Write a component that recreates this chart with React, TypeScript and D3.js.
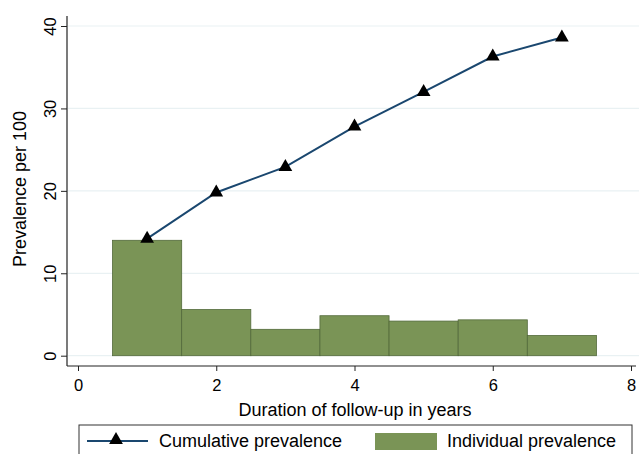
import { useEffect, useRef } from 'react';
import * as d3 from 'd3';

const years = [1, 2, 3, 4, 5, 6, 7];
const cumulative = [14.2, 19.8, 22.9, 27.8, 32.0, 36.3, 38.6];
const individual = [14.0, 5.6, 3.2, 4.85, 4.2, 4.35, 2.45];
const xTicks = [0, 2, 4, 6, 8];
const yTicks = [0, 10, 20, 30, 40];

const LINE_COLOR = '#1a476f';
const BAR_COLOR = '#7a9456';
const BAR_EDGE = '#52693a';
const GRID_COLOR = '#e9f1f3';
const FONT = '"Liberation Sans", Arial, sans-serif';

export default function App() {
  const svgRef = useRef<SVGSVGElement>(null);

  useEffect(() => {
    if (!svgRef.current) return;
    const svg = d3.select(svgRef.current);
    svg.selectAll('*').remove();

    const width = 639;
    const axisX = 67;
    const axisY = 366;

    const x = d3.scaleLinear().domain([0, 8]).range([78, 631]);
    const y = d3.scaleLinear().domain([0, 40]).range([355.7, 26]);

    svg.append('rect').attr('width', width).attr('height', 454).attr('fill', '#ffffff');

    // gridlines
    svg.append('g')
      .selectAll('line')
      .data(yTicks)
      .join('line')
      .attr('x1', axisX + 1)
      .attr('x2', width)
      .attr('y1', d => y(d))
      .attr('y2', d => y(d))
      .attr('stroke', GRID_COLOR)
      .attr('stroke-width', 1.2);

    // bars (one year wide, centred on the year)
    svg.append('g')
      .selectAll('rect')
      .data(years)
      .join('rect')
      .attr('x', d => x(d - 0.5))
      .attr('width', d => x(d + 0.5) - x(d - 0.5))
      .attr('y', (_, i) => y(individual[i]))
      .attr('height', (_, i) => y(0) - y(individual[i]))
      .attr('fill', BAR_COLOR)
      .attr('stroke', BAR_EDGE)
      .attr('stroke-width', 0.8);

    // cumulative line
    const line = d3.line<number>()
      .x((_, i) => x(years[i]))
      .y(d => y(d));
    svg.append('path')
      .datum(cumulative)
      .attr('d', line)
      .attr('fill', 'none')
      .attr('stroke', LINE_COLOR)
      .attr('stroke-width', 2);

    const tri = d3.symbol().type(d3.symbolTriangle).size(82);
    svg.append('g')
      .selectAll('path')
      .data(cumulative)
      .join('path')
      .attr('d', tri)
      .attr('transform', (d, i) => `translate(${x(years[i])},${y(d)})`)
      .attr('fill', '#000000');

    // axis lines
    svg.append('line')
      .attr('x1', axisX).attr('x2', 636)
      .attr('y1', axisY).attr('y2', axisY)
      .attr('stroke', '#222').attr('stroke-width', 1.2);
    svg.append('line')
      .attr('x1', axisX).attr('x2', axisX)
      .attr('y1', 16).attr('y2', axisY)
      .attr('stroke', '#222').attr('stroke-width', 1.2);

    // x axis
    const xAxis = svg.append('g')
      .attr('transform', `translate(0,${axisY})`)
      .call(d3.axisBottom(x).tickValues(xTicks).tickSize(5).tickSizeOuter(0).tickPadding(8));
    xAxis.select('.domain').remove();
    xAxis.selectAll('line').attr('stroke', '#222');
    xAxis.selectAll('text')
      .attr('font-family', FONT)
      .attr('font-size', 16.5)
      .attr('fill', '#000');

    // y axis, labels turned like Stata
    const yAxis = svg.append('g')
      .attr('transform', `translate(${axisX},0)`)
      .call(d3.axisLeft(y).tickValues(yTicks).tickSize(6).tickSizeOuter(0));
    yAxis.select('.domain').remove();
    yAxis.selectAll('line').attr('stroke', '#222');
    yAxis.selectAll<SVGTextElement, number>('text')
      .attr('x', null)
      .attr('dy', null)
      .attr('text-anchor', 'middle')
      .attr('transform', 'translate(-17,0) rotate(-90)')
      .attr('dominant-baseline', 'central')
      .attr('font-family', FONT)
      .attr('font-size', 16.5)
      .attr('fill', '#000');

    // axis titles
    svg.append('text')
      .attr('x', 355)
      .attr('y', 416)
      .attr('text-anchor', 'middle')
      .attr('font-family', FONT)
      .attr('font-size', 18)
      .text('Duration of follow-up in years');

    svg.append('text')
      .attr('transform', 'translate(26,189) rotate(-90)')
      .attr('text-anchor', 'middle')
      .attr('font-family', FONT)
      .attr('font-size', 18)
      .text('Prevalence per 100');

    // legend
    const legend = svg.append('g');
    legend.append('rect')
      .attr('x', 79).attr('y', 425)
      .attr('width', 553).attr('height', 50)
      .attr('fill', '#fff')
      .attr('stroke', '#333')
      .attr('stroke-width', 1);
    legend.append('line')
      .attr('x1', 87).attr('x2', 148)
      .attr('y1', 441).attr('y2', 441)
      .attr('stroke', LINE_COLOR).attr('stroke-width', 2);
    legend.append('path')
      .attr('d', tri)
      .attr('transform', 'translate(116,440)')
      .attr('fill', '#000');
    legend.append('text')
      .attr('x', 159).attr('y', 447)
      .attr('font-family', FONT).attr('font-size', 18)
      .text('Cumulative prevalence');
    legend.append('rect')
      .attr('x', 375).attr('y', 433)
      .attr('width', 62).attr('height', 17)
      .attr('fill', BAR_COLOR);
    legend.append('text')
      .attr('x', 447).attr('y', 447)
      .attr('font-family', FONT).attr('font-size', 18)
      .text('Individual prevalence');
  }, []);

  return (
    <svg
      ref={svgRef}
      width={639}
      height={454}
      style={{ position: 'absolute', left: 0, top: 0, display: 'block' }}
    />
  );
}
